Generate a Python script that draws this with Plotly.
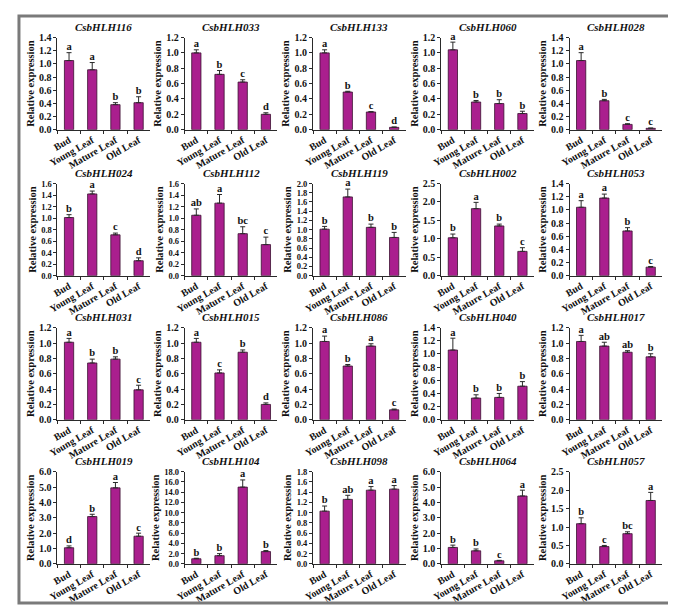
import plotly.graph_objects as go

categories = ["Bud", "Young Leaf", "Mature Leaf", "Old Leaf"]

genes = ["CsbHLH116", "CsbHLH033", "CsbHLH133", "CsbHLH060", "CsbHLH028",
         "CsbHLH024", "CsbHLH112", "CsbHLH119", "CsbHLH002", "CsbHLH053",
         "CsbHLH031", "CsbHLH015", "CsbHLH086", "CsbHLH040", "CsbHLH017",
         "CsbHLH019", "CsbHLH104", "CsbHLH098", "CsbHLH064", "CsbHLH057"]

values = [
    [1.05, 0.91, 0.38, 0.41],
    [1.00, 0.72, 0.62, 0.20],
    [1.00, 0.49, 0.23, 0.03],
    [1.04, 0.36, 0.34, 0.21],
    [1.05, 0.44, 0.08, 0.02],
    [1.01, 1.42, 0.71, 0.26],
    [1.05, 1.26, 0.73, 0.54],
    [1.01, 1.71, 1.05, 0.83],
    [1.03, 1.82, 1.35, 0.66],
    [1.04, 1.18, 0.68, 0.13],
    [1.01, 0.74, 0.79, 0.39],
    [1.01, 0.61, 0.88, 0.20],
    [1.02, 0.70, 0.96, 0.13],
    [1.06, 0.33, 0.34, 0.51],
    [1.02, 0.96, 0.88, 0.82],
    [1.05, 3.08, 4.95, 1.80],
    [1.00, 1.60, 15.0, 2.40],
    [1.03, 1.26, 1.44, 1.46],
    [1.07, 0.85, 0.20, 4.42],
    [1.09, 0.47, 0.82, 1.72],
]

errors = [
    [0.12, 0.11, 0.03, 0.09],
    [0.04, 0.05, 0.03, 0.02],
    [0.04, 0.01, 0.005, 0.005],
    [0.10, 0.02, 0.05, 0.03],
    [0.12, 0.02, 0.01, 0.005],
    [0.05, 0.05, 0.03, 0.05],
    [0.11, 0.15, 0.12, 0.13],
    [0.06, 0.17, 0.07, 0.11],
    [0.10, 0.17, 0.05, 0.10],
    [0.10, 0.06, 0.05, 0.01],
    [0.05, 0.05, 0.03, 0.06],
    [0.05, 0.04, 0.03, 0.02],
    [0.07, 0.02, 0.03, 0.01],
    [0.18, 0.05, 0.06, 0.07],
    [0.08, 0.05, 0.02, 0.04],
    [0.12, 0.15, 0.35, 0.20],
    [0.10, 0.40, 1.40, 0.20],
    [0.10, 0.08, 0.07, 0.07],
    [0.15, 0.12, 0.03, 0.38],
    [0.16, 0.03, 0.05, 0.22],
]

letters = [
    ["a", "a", "b", "b"],
    ["a", "b", "c", "d"],
    ["a", "b", "c", "d"],
    ["a", "b", "b", "b"],
    ["a", "b", "c", "c"],
    ["b", "a", "c", "d"],
    ["ab", "a", "bc", "c"],
    ["b", "a", "b", "b"],
    ["b", "a", "b", "c"],
    ["a", "a", "b", "c"],
    ["a", "b", "b", "c"],
    ["a", "c", "b", "d"],
    ["a", "b", "a", "c"],
    ["a", "b", "b", "b"],
    ["a", "ab", "ab", "b"],
    ["d", "b", "a", "c"],
    ["b", "b", "a", "b"],
    ["b", "ab", "a", "a"],
    ["b", "b", "c", "a"],
    ["b", "c", "bc", "a"],
]

y_max = [1.4, 1.2, 1.2, 1.2, 1.4,
         1.6, 1.6, 2.0, 2.5, 1.4,
         1.2, 1.2, 1.2, 1.4, 1.2,
         6.0, 18.0, 1.8, 6.0, 2.5]
y_step = [0.2, 0.2, 0.2, 0.2, 0.2,
          0.2, 0.2, 0.2, 0.5, 0.2,
          0.2, 0.2, 0.2, 0.2, 0.2,
          1.0, 2.0, 0.2, 1.0, 0.5]

W, H = 676, 605
col_left = [41, 170, 300, 430, 560]
col_w = 94
row_top = [24, 173, 320, 467]
row_h = 94

BAR = "#AA1F8E"
AX = "#2a2a2a"
SERIF = "Liberation Serif"

fig = go.Figure()
layout = {}
annotations = []

for i, g in enumerate(genes):
    r, c = divmod(i, 5)
    n = i + 1
    xa = "x" if n == 1 else f"x{n}"
    ya = "y" if n == 1 else f"y{n}"
    x0 = col_left[c] / W
    x1 = (col_left[c] + col_w) / W
    y1 = 1 - row_top[r] / H
    y0 = 1 - (row_top[r] + row_h) / H
    nticks = round(y_max[i] / y_step[i]) + 1
    ytick_size = 10 if nticks <= 8 else 8.5
    fig.add_trace(go.Bar(
        x=categories, y=values[i], xaxis=xa, yaxis=ya, width=0.4,
        marker=dict(color=BAR, line=dict(color="#3a1030", width=0.8)),
        error_y=dict(type="data", array=errors[i], arrayminus=[0] * 4,
                     symmetric=False, color=AX, thickness=1, width=2.5),
        showlegend=False, hoverinfo="skip"))
    fig.add_trace(go.Scatter(
        x=categories, y=[v + e for v, e in zip(values[i], errors[i])],
        xaxis=xa, yaxis=ya, mode="text", text=letters[i],
        textposition="top center", cliponaxis=False,
        textfont=dict(family=SERIF, size=10.5, color="#111", weight="bold"),
        showlegend=False, hoverinfo="skip"))
    kx = "xaxis" if n == 1 else f"xaxis{n}"
    ky = "yaxis" if n == 1 else f"yaxis{n}"
    layout[kx] = dict(domain=[x0, x1], anchor=ya, showline=True, linecolor=AX,
                      linewidth=1, ticks="outside", tickson="boundaries",
                      ticklen=3, tickcolor=AX, tickangle=-30,
                      tickfont=dict(family=SERIF, size=10, color="#111", weight="bold"),
                      showgrid=False, zeroline=False, fixedrange=True)
    layout[ky] = dict(domain=[y0, y1], anchor=xa, range=[0, y_max[i]],
                      dtick=y_step[i], tick0=0, tickformat=".1f",
                      showline=True, linecolor=AX, linewidth=1,
                      ticks="outside", ticklen=3, tickcolor=AX,
                      tickfont=dict(family=SERIF, size=ytick_size, color="#111", weight="bold"),
                      title=dict(text="Relative expression", standoff=2,
                                 font=dict(family=SERIF, size=10.5, color="#111", weight="bold")),
                      showgrid=False, zeroline=False, fixedrange=True)
    annotations.append(dict(
        text=g, xref="paper", yref="paper", x=(x0 + x1) / 2,
        y=y1 + 3 / H, yanchor="bottom", xanchor="center", showarrow=False,
        font=dict(family=SERIF, size=11, color="#111", weight="bold", style="italic")))

fig.update_layout(
    width=W, height=H,
    margin=dict(l=0, r=0, t=0, b=0),
    paper_bgcolor="white", plot_bgcolor="white",
    annotations=annotations,
    shapes=[dict(type="rect", xref="paper", yref="paper",
                 x0=2 / W, x1=673 / W, y0=1 - 601 / H, y1=1 - 2 / H,
                 line=dict(color="#7a7a7a", width=3))],
    **layout)

fig.write_html("out.html")
